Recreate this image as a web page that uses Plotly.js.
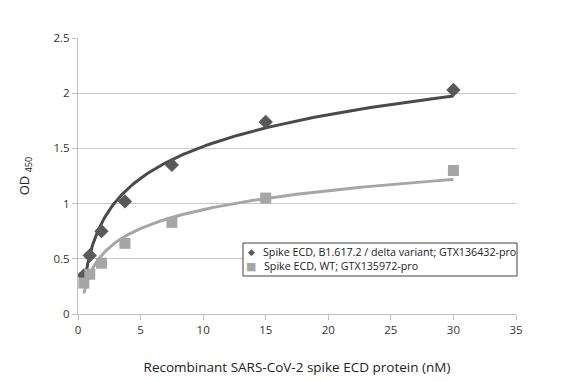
<!DOCTYPE html>
<html><head><meta charset="utf-8">
<script src="https://cdn.plot.ly/plotly-3.0.1.min.js"></script>
<style>html,body{margin:0;padding:0;background:#fff}#c{width:582px;height:382px}</style>
</head><body><div id="c"></div>
<script>
// Concentrations (nM)
const conc = [0.47, 0.94, 1.875, 3.75, 7.5, 15, 30];
// OD450 readings
const deltaOD = [0.35, 0.53, 0.75, 1.02, 1.35, 1.74, 2.03];
const wtOD = [0.28, 0.36, 0.46, 0.64, 0.83, 1.05, 1.30];
const deltaName = "Spike ECD, B1.617.2 / delta variant; GTX136432-pro";
const wtName = "Spike ECD, WT; GTX135972-pro";
const xTicks = [0, 5, 10, 15, 20, 25, 30, 35];
const yTicks = [0, 0.5, 1, 1.5, 2, 2.5];

// logarithmic trendline (least squares on ln x), as the spreadsheet does
function logFit(xs, ys) {
  const lx = xs.map(Math.log);
  const n = xs.length;
  const mx = lx.reduce((a, b) => a + b, 0) / n;
  const my = ys.reduce((a, b) => a + b, 0) / n;
  let sxy = 0, sxx = 0;
  for (let i = 0; i < n; i++) { sxy += (lx[i] - mx) * (ys[i] - my); sxx += (lx[i] - mx) ** 2; }
  const a = sxy / sxx, b = my - a * mx;
  const x0 = Math.min(...xs), x1 = Math.max(...xs);
  const tx = [], ty = [];
  for (let i = 0; i <= 200; i++) {
    const x = Math.exp(Math.log(x0) + (Math.log(x1) - Math.log(x0)) * i / 200);
    tx.push(x); ty.push(a * Math.log(x) + b);
  }
  return {x: tx, y: ty};
}
const dFit = logFit(conc, deltaOD);
const wFit = logFit(conc, wtOD);

const dark = "#595959", light = "#a6a6a6";
const traces = [
  {x: dFit.x, y: dFit.y, mode: "lines", line: {color: "#4a4a4a", width: 3}, showlegend: false, hoverinfo: "skip"},
  {x: wFit.x, y: wFit.y, mode: "lines", line: {color: light, width: 3}, showlegend: false, hoverinfo: "skip"},
  {x: conc, y: deltaOD, name: deltaName, mode: "markers", marker: {symbol: "diamond", size: 11, color: dark}, showlegend: false},
  {x: conc, y: wtOD, name: wtName, mode: "markers", marker: {symbol: "square", size: 11, color: light}, showlegend: false}
];

const font = "'Open Sans', 'Liberation Sans', sans-serif";
// compact legend box (paper coordinates of the plot area)
const legFont = {family: font, size: 10.7, color: "#222"};
const layout = {
  width: 582, height: 382,
  margin: {l: 78, r: 66, t: 38, b: 68},
  paper_bgcolor: "#fff", plot_bgcolor: "#fff",
  font: {family: font, size: 11, color: "#333"},
  showlegend: false,
  xaxis: {
    range: [0, 35], tickvals: xTicks, ticktext: xTicks.map(String),
    showgrid: false, zeroline: false, showline: true, linecolor: "#bfbfbf", linewidth: 1,
    ticks: "outside", ticklen: 5, tickcolor: "#bfbfbf",
    tickfont: {size: 11.5, color: "#333"},
    title: {text: "Recombinant SARS-CoV-2 spike ECD protein (nM)", font: {size: 13.5, color: "#222"}, standoff: 26}
  },
  yaxis: {
    range: [0, 2.5], tickvals: yTicks, ticktext: yTicks.map(String),
    showgrid: true, gridcolor: "#c8c8c8", gridwidth: 1, zeroline: false,
    showline: true, linecolor: "#bfbfbf", linewidth: 1,
    ticks: "outside", ticklen: 5, tickcolor: "#bfbfbf",
    tickfont: {size: 11.5, color: "#333"},
    title: {text: "OD <sub>450</sub>", font: {size: 13, color: "#222"}, standoff: 20}
  },
  shapes: [
    {type: "rect", xref: "paper", yref: "paper", x0: 0.3767, x1: 1.0023, y0: 0.1377, y1: 0.2572,
     line: {color: "#404040", width: 1}, fillcolor: "#fff", layer: "above"}
  ],
  annotations: [
    {xref: "paper", yref: "paper", x: 0.395, y: 0.2246, xanchor: "center", yanchor: "middle", showarrow: false,
     text: "◆", font: {family: "DejaVu Sans", size: 9, color: dark}},
    {xref: "paper", yref: "paper", x: 0.395, y: 0.1739, xanchor: "center", yanchor: "middle", showarrow: false,
     text: "■", font: {family: "DejaVu Sans", size: 11, color: light}},
    {xref: "paper", yref: "paper", x: 0.418, y: 0.2246, xanchor: "left", yanchor: "middle", showarrow: false,
     text: deltaName, font: legFont},
    {xref: "paper", yref: "paper", x: 0.420, y: 0.1739, xanchor: "left", yanchor: "middle", showarrow: false,
     text: wtName, font: legFont}
  ]
};
Plotly.newPlot("c", traces, layout, {displayModeBar: false, staticPlot: true});
</script></body></html>
